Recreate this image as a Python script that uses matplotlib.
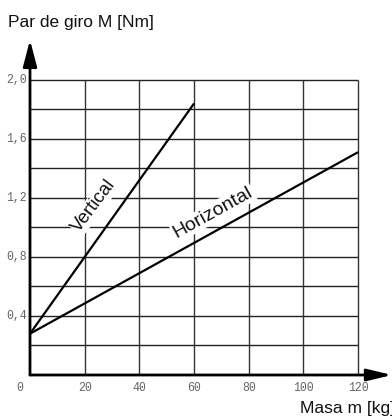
import matplotlib.pyplot as plt
import numpy as np

# values
mass_vert = [0, 60]
torque_vert = [0.28, 1.84]
mass_horz = [0, 120]
torque_horz = [0.28, 1.51]

x_grid = [20, 40, 60, 80, 100, 120]
y_grid = [0.2, 0.4, 0.6, 0.8, 1.0, 1.2, 1.4, 1.6, 1.8, 2.0]
x_ticks = [0, 20, 40, 60, 80, 100, 120]
y_ticks = [0.4, 0.8, 1.2, 1.6, 2.0]
y_tick_labels = ['0,4', '0,8', '1,2', '1,6', '2,0']

fig = plt.figure(figsize=(3.92, 4.2), dpi=100)
ax = fig.add_axes([30 / 392, 45 / 420, 362 / 392, 335 / 420])
ax.set_xlim(0, 132.4)
ax.set_ylim(0, 2.27)
ax.axis('off')

# grid
ax.hlines(y_grid, 0, 120, color='#222222', lw=1)
ax.vlines(x_grid, 0, 2.0, color='#333333', lw=1)

# axes with arrows
ax.annotate('', xy=(0, 2.27), xytext=(0, 0),
            arrowprops=dict(arrowstyle='-|>,head_length=1.6,head_width=0.42',
                            lw=2, color='black', shrinkA=0, shrinkB=0))
ax.annotate('', xy=(132.4, 0), xytext=(0, 0),
            arrowprops=dict(arrowstyle='-|>,head_length=1.5,head_width=0.36',
                            lw=2, color='black', shrinkA=0, shrinkB=0))

# lines
ax.plot(mass_vert, torque_vert, color='black', lw=1.6, solid_capstyle='butt')
ax.plot(mass_horz, torque_horz, color='black', lw=1.6, solid_capstyle='butt')

lab_box = dict(facecolor='white', edgecolor='none', pad=1.0)
ax.text(23.5, 1.15, 'Vertical', rotation=53, ha='center', va='center',
        fontsize=13.5, family='Liberation Sans', color='#111111', bbox=lab_box)
ax.text(67, 1.10, 'Horizontal', rotation=29, ha='center', va='center',
        fontsize=14, family='Liberation Sans', color='#111111', bbox=lab_box)

# tick labels
for xt in x_ticks:
    xpos = xt if xt != 0 else -3.6
    ax.text(xpos, -0.085, str(xt), ha='center', va='center', fontsize=8.3,
            family='Liberation Mono', color='#666666', clip_on=False)
for yt, lab in zip(y_ticks, y_tick_labels):
    ax.text(-1.2, yt, lab, ha='right', va='center', fontsize=8.3,
            family='Liberation Mono', color='#666666', clip_on=False)

fig.text(8 / 392, 1 - 22 / 420, 'Par de giro M [Nm]', ha='left', va='center',
         fontsize=12.5, family='Liberation Sans', color='#111111')
fig.text(300 / 392, 1 - 409 / 420, 'Masa m [kg]', ha='left', va='center',
         fontsize=12.5, family='Liberation Sans', color='#111111')

fig.savefig('out.png', dpi=100)
